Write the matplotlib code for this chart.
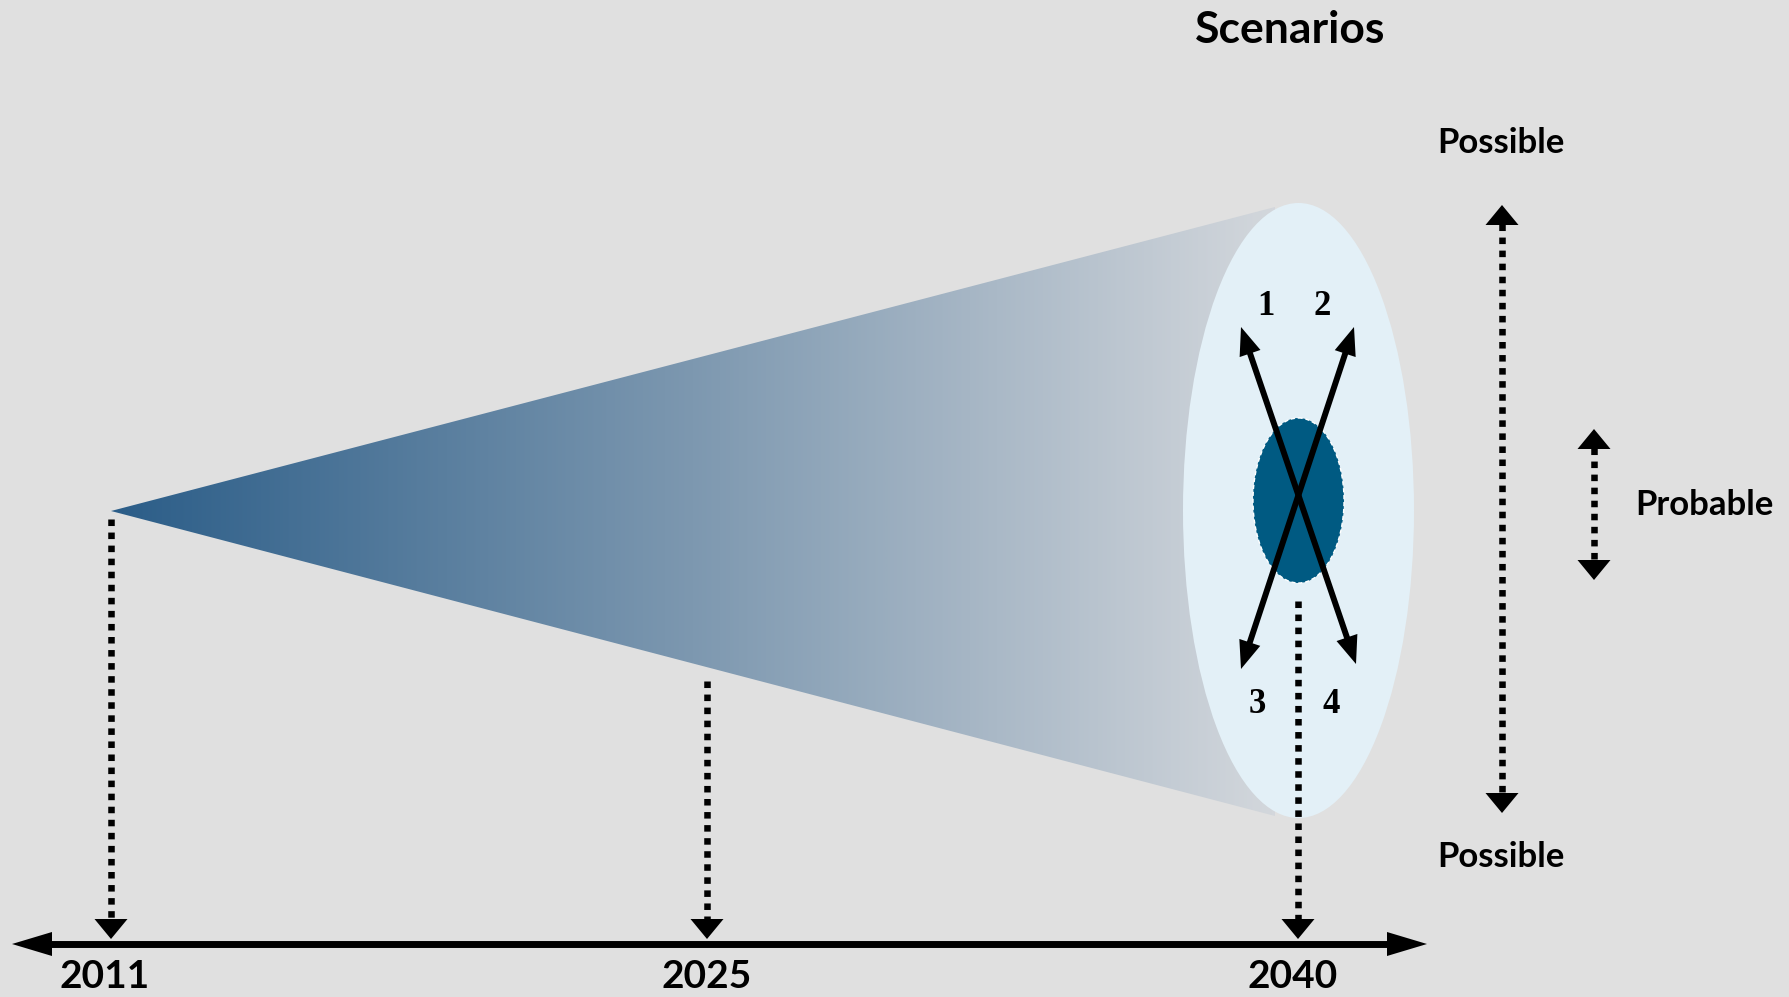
import numpy as np
import matplotlib
matplotlib.use("Agg")
import matplotlib.pyplot as plt
from matplotlib.patches import Polygon, Ellipse
from matplotlib.colors import LinearSegmentedColormap

# timeline labels and where they sit (pixel space of the 1789x997 picture)
years = ["2011", "2025", "2040"]
year_x = [111, 707, 1298]
year_label_x = [105, 707, 1293]
year_line_top = [519, 681, 601]

scenario_nums = ["1", "2", "3", "4"]
scenario_pos = [(1266, 315), (1322, 315), (1257, 713), (1331, 713)]

side_labels = ["Possible", "Probable", "Possible"]
side_pos = [(1501, 153), (1704, 515), (1501, 867)]

BG = "#e0e0e0"
W, H = 1789, 997

plt.rcParams['font.family'] = ['Lato', 'DejaVu Sans']

fig = plt.figure(figsize=(W / 100, H / 100), dpi=100)
fig.patch.set_facecolor(BG)
ax = fig.add_axes([0, 0, 1, 1])
ax.set_xlim(0, W)
ax.set_ylim(H, 0)
ax.axis('off')
ax.set_facecolor(BG)


def head(tip, d, L, Wd, color='black', z=5):
    tip = np.array(tip, float)
    d = np.array(d, float)
    d /= np.linalg.norm(d)
    n = np.array([-d[1], d[0]])
    base = tip - d * L
    pts = [tip, base + n * Wd / 2, base - n * Wd / 2]
    ax.add_patch(Polygon(pts, closed=True, facecolor=color, edgecolor='none', zorder=z))


def dotted(x0, y0, x1, y1, z=4):
    ax.plot([x0, x1], [y0, y1], color='black', lw=4.7, linestyle=(0, (1, 1)),
            dash_capstyle='butt', zorder=z)


# cone with horizontal gradient
apex = (111, 511)
cone = Polygon([apex, (1275, 207), (1275, 816)], closed=True, facecolor='none',
               edgecolor='none')
ax.add_patch(cone)
cmap = LinearSegmentedColormap.from_list('cone', ['#2b5d88', '#7d98b0', '#d3d7dc'])
grad = np.linspace(0, 1, 512).reshape(1, -1)
im = ax.imshow(grad, cmap=cmap, extent=[111, 1275, 816, 200], aspect='auto',
               zorder=1, interpolation='bilinear')
im.set_clip_path(cone)

# big light ellipse and inner dark one
ax.add_patch(Ellipse((1298.5, 510.5), 231, 615, facecolor='#e3f0f7',
                     edgecolor='none', zorder=2))
ax.add_patch(Ellipse((1298.5, 500.5), 91, 165, facecolor='#005a82',
                     edgecolor='white', lw=1.0, ls=(0, (3, 2)), zorder=3))

# crossing scenario arrows
cross = [((1241, 327), (1356, 664)), ((1354, 327), (1241, 669))]
for a, b in cross:
    a = np.array(a, float)
    b = np.array(b, float)
    d = (b - a) / np.linalg.norm(b - a)
    ax.plot([a[0] + d[0] * 20, b[0] - d[0] * 20], [a[1] + d[1] * 20, b[1] - d[1] * 20],
            color='black', lw=4.3, solid_capstyle='butt', zorder=5)
    head(a, -d, 28, 22)
    head(b, d, 28, 22)

for t, (x, y) in zip(scenario_nums, scenario_pos):
    ax.text(x, y, t, ha='center', va='baseline', fontsize=25, fontweight='bold',
            family='Liberation Serif', zorder=6)

# time axis
axis_y = 944
ax.plot([50, 1390], [axis_y, axis_y], color='black', lw=5, solid_capstyle='butt', zorder=4)
head((12, axis_y), (-1, 0), 40, 24)
head((1427, axis_y), (1, 0), 40, 24)

for lab, x, lx, top in zip(years, year_x, year_label_x, year_line_top):
    dotted(x, top, x, 919)
    head((x, 939), (0, 1), 20, 33)
    ax.text(lx, 988, lab, ha='center', va='baseline', fontsize=28,
            fontweight='bold', zorder=6)

# possible / probable range arrows
dotted(1502, 224, 1502, 794)
head((1502, 205), (0, -1), 20, 33)
head((1502, 813), (0, 1), 20, 33)
dotted(1594, 448, 1594, 561)
head((1594, 429), (0, -1), 20, 33)
head((1594, 580), (0, 1), 20, 33)

for lab, (x, y) in zip(side_labels, side_pos):
    ax.text(x, y, lab, ha='center', va='baseline', fontsize=25, fontweight='bold')

ax.text(1290, 43, "Scenarios", ha='center', va='baseline', fontsize=32,
        fontweight='bold')

fig.savefig('out.png', dpi=100, facecolor=BG)
